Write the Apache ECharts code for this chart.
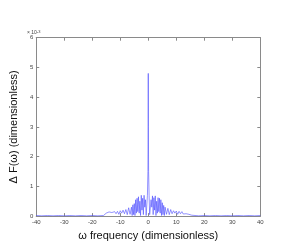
<!DOCTYPE html>
<html><head><meta charset="utf-8">
<script src="https://cdn.jsdelivr.net/npm/echarts@6/dist/echarts.min.js"></script>
<style>html,body{margin:0;padding:0;background:#fff}#c{width:299px;height:246px}</style>
</head><body><div id="c"></div>
<script>
// frequency (dimensionless)
const freqX = [-40,-38,-36,-34,-32,-30,-28,-26,-24,-22,-20,-18,-16,-15.5,
 -15,-14.5,-14,-13.5,-13,-12.5,-12,-11.5,-11,-10.5,-10,-9.5,-9,-8.5,-8,-7.5,-7,-6.5,-6,-5.75,-5.5,-5.25,-5,-4.75,-4.5,-4.25,-4,-3.75,-3.5,-3.25,-3,-2.75,-2.5,-2.25,-2,-1.75,-1.5,-1.25,-1,-0.75,-0.5,-0.3,-0.12,-0.05,
 0,
 0.05,0.12,0.3,0.5,0.75,1,1.25,1.5,1.75,2,2.25,2.5,2.75,3,3.25,3.5,3.75,4,4.25,4.5,4.75,5,5.25,5.5,5.75,6,6.5,7,7.5,8,8.5,9,9.5,10,10.5,11,11.5,12,12.5,13,13.5,14,14.5,15,15.5,
 16,18,20,22,24,26,28,30,32,34,36,38,40];
// ΔF(ω) in units of 1e-3
const deltaF = [0.02,0.01,0.02,0.01,0.02,0.01,0.02,0.01,0.02,0.01,0.02,0.01,0.02,0.03,
 0.10,0.06,0.14,0.08,0.12,0.07,0.15,0.08,0.16,0.06,0.18,0.10,0.20,0.08,0.22,0.05,0.28,0.06,0.30,0.02,0.38,0.05,0.42,0.02,0.55,0.10,0.60,0.15,0.65,0.10,0.50,0.02,0.70,0.20,0.60,0.05,0.70,0.30,0.55,0.02,0.05,0.70,1.50,3.00,
 4.80,
 3.00,1.50,0.70,0.05,0.02,0.55,0.30,0.68,0.05,0.62,0.20,0.68,0.02,0.50,0.10,0.62,0.15,0.60,0.10,0.55,0.02,0.45,0.05,0.36,0.02,0.30,0.06,0.26,0.05,0.22,0.08,0.18,0.10,0.17,0.06,0.16,0.08,0.15,0.07,0.12,0.08,0.13,0.06,0.10,0.03,
 0.02,0.01,0.02,0.01,0.02,0.01,0.02,0.01,0.02,0.01,0.02,0.01,0.02];
const xTicks = [-40,-30,-20,-10,0,10,20,30,40];
const yTicks = [0,1,2,3,4,5,6];

const points = freqX.map((x,i)=>[x, deltaF[i]]);
const axisColor = '#8a8a8a';
const labelStyle = {color:'#444', fontSize:6, fontFamily:'Liberation Sans', margin:3};
const chart = echarts.init(document.getElementById('c'), null, {renderer:'canvas'});
chart.setOption({
  animation:false,
  backgroundColor:'#fff',
  grid:{left:26.7, right:38.7, top:37.7, bottom:23.3, containLabel:false},
  xAxis:[{
    type:'value', min:xTicks[0], max:xTicks[xTicks.length-1], interval:10,
    name:'ω frequency (dimensionless)', nameLocation:'middle', nameGap:8,
    nameTextStyle:{fontSize:11, color:'#111', fontFamily:'Liberation Sans'},
    axisLine:{onZero:false, lineStyle:{color:axisColor, width:1}},
    axisTick:{inside:true, length:3, lineStyle:{color:axisColor}},
    axisLabel:labelStyle, splitLine:{show:false}
  },{
    type:'value', position:'top', min:-40, max:40, interval:10,
    axisLine:{show:true, onZero:false, lineStyle:{color:axisColor}},
    axisTick:{inside:true, length:3, lineStyle:{color:axisColor}},
    axisLabel:{show:false}, splitLine:{show:false}
  }],
  yAxis:[{
    type:'value', min:yTicks[0], max:yTicks[yTicks.length-1], interval:1,
    name:'Δ F(ω) (dimensionless)', nameLocation:'middle', nameGap:10,
    nameTextStyle:{fontSize:11, color:'#111', fontFamily:'Liberation Sans'},
    axisLine:{show:true, onZero:false, lineStyle:{color:axisColor, width:1}},
    axisTick:{show:true, inside:true, length:3, lineStyle:{color:axisColor}},
    axisLabel:labelStyle, splitLine:{show:false}
  },{
    type:'value', position:'right', min:0, max:6, interval:1,
    axisLine:{show:true, onZero:false, lineStyle:{color:axisColor}},
    axisTick:{show:true, inside:true, length:3, lineStyle:{color:axisColor}},
    axisLabel:{show:false}, splitLine:{show:false}
  }],
  graphic:[{
    type:'text', left:27, top:30,
    style:{text:'× 10{s|-3}', rich:{s:{fontSize:4, verticalAlign:'top', fill:'#444'}}, fontSize:5, fill:'#444', fontFamily:'Liberation Sans'}
  }],
  series:[{
    type:'line', data:points, showSymbol:false, symbol:'none',
    lineStyle:{color:'#4a4aff', width:0.6}, clip:true
  }]
});
</script></body></html>
